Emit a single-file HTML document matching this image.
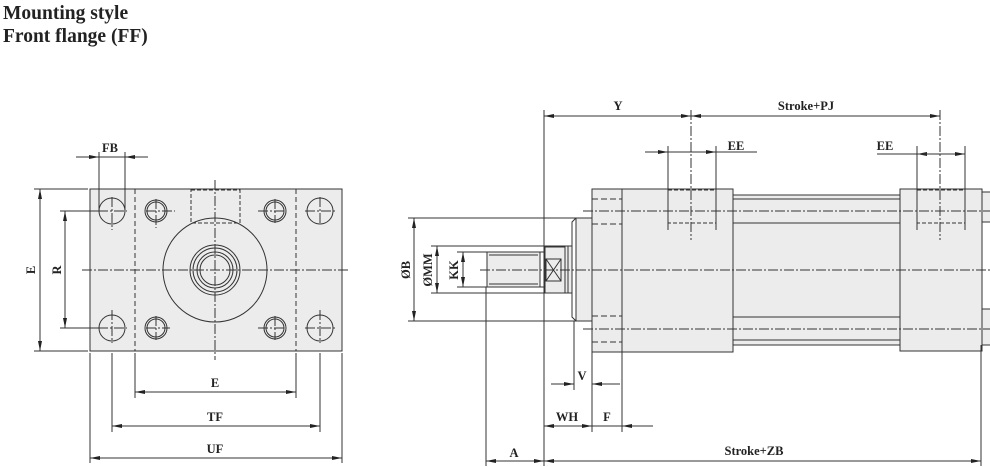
<!DOCTYPE html>
<html><head><meta charset="utf-8"><style>
body{margin:0;background:#fff;width:990px;height:467px;overflow:hidden}
svg{position:absolute;left:0;top:0}
</style></head><body>
<svg width="990" height="467" viewBox="0 0 990 467" xmlns="http://www.w3.org/2000/svg" font-family="Liberation Serif, serif">
<defs>
<marker id="a" viewBox="0 0 10 6" refX="10" refY="3" markerWidth="10" markerHeight="6" orient="auto-start-reverse" markerUnits="userSpaceOnUse"><path d="M0,1 L10,3 L0,5z" fill="#222"/></marker>
</defs>
<text x="3" y="19" font-size="19.5" font-weight="bold" fill="#222">Mounting style</text>
<text x="3" y="42" font-size="19.5" font-weight="bold" fill="#222">Front flange (FF)</text>

<g stroke="#333" stroke-width="1" fill="none">
<rect x="90" y="189" width="252" height="162" fill="#ececec"/>
<line x1="135" y1="189" x2="135" y2="351" stroke-dasharray="5,3"/>
<line x1="296" y1="189" x2="296" y2="351" stroke-dasharray="5,3"/>
<circle cx="215" cy="270" r="52"/>
<circle cx="215" cy="270" r="25"/><circle cx="215" cy="270" r="22"/><circle cx="215" cy="270" r="18"/><circle cx="215" cy="270" r="15"/>
<rect x="191" y="190" width="49" height="33" stroke-dasharray="4,2"/>
<circle cx="112" cy="211" r="13"/><circle cx="320" cy="211" r="13"/>
<circle cx="112" cy="328" r="13"/><circle cx="320" cy="328" r="13"/>
<circle cx="156" cy="211" r="11"/><circle cx="156" cy="211" r="9"/>
<circle cx="275" cy="211" r="11"/><circle cx="275" cy="211" r="9"/>
<circle cx="156" cy="328" r="11"/><circle cx="156" cy="328" r="9"/>
<circle cx="275" cy="328" r="11"/><circle cx="275" cy="328" r="9"/>
<g stroke-dasharray="10,2,2,2">
<line x1="82" y1="270" x2="350" y2="270"/>
<line x1="215" y1="180" x2="215" y2="360"/>
<line x1="98" y1="211" x2="127" y2="211"/><line x1="112" y1="197" x2="112" y2="230"/>
<line x1="305" y1="211" x2="335" y2="211"/><line x1="320" y1="197" x2="320" y2="225"/>
<line x1="98" y1="328" x2="127" y2="328"/><line x1="112" y1="310" x2="112" y2="343"/>
<line x1="305" y1="328" x2="335" y2="328"/><line x1="320" y1="310" x2="320" y2="343"/>
<line x1="146" y1="211" x2="175" y2="211"/><line x1="156" y1="199" x2="156" y2="228"/>
<line x1="258" y1="211" x2="286" y2="211"/><line x1="275" y1="199" x2="275" y2="223"/>
<line x1="146" y1="328" x2="170" y2="328"/><line x1="156" y1="316" x2="156" y2="340"/>
<line x1="258" y1="328" x2="286" y2="328"/><line x1="275" y1="316" x2="275" y2="340"/>
</g>
<line x1="34" y1="189" x2="88" y2="189"/><line x1="34" y1="351" x2="88" y2="351"/>
<line x1="40" y1="189" x2="40" y2="351" marker-start="url(#a)" marker-end="url(#a)"/>
<line x1="60" y1="211" x2="98" y2="211"/><line x1="60" y1="328" x2="98" y2="328"/>
<line x1="65" y1="211" x2="65" y2="328" marker-start="url(#a)" marker-end="url(#a)"/>
<line x1="99" y1="152" x2="99" y2="211"/><line x1="125" y1="152" x2="125" y2="211"/>
<line x1="76" y1="157" x2="99" y2="157" marker-end="url(#a)"/><line x1="148" y1="157" x2="125" y2="157" marker-end="url(#a)"/>
<line x1="99" y1="157" x2="125" y2="157"/>
<line x1="135" y1="353" x2="135" y2="398"/><line x1="296" y1="353" x2="296" y2="398"/>
<line x1="135" y1="392" x2="296" y2="392" marker-start="url(#a)" marker-end="url(#a)"/>
<line x1="112" y1="353" x2="112" y2="432"/><line x1="320" y1="353" x2="320" y2="432"/>
<line x1="112" y1="426" x2="320" y2="426" marker-start="url(#a)" marker-end="url(#a)"/>
<line x1="90" y1="353" x2="90" y2="463"/><line x1="342" y1="353" x2="342" y2="463"/>
<line x1="90" y1="458" x2="342" y2="458" marker-start="url(#a)" marker-end="url(#a)"/>

<rect x="733" y="195" width="167" height="150" fill="#ececec"/>
<line x1="733" y1="199" x2="900" y2="199"/><line x1="733" y1="223" x2="900" y2="223"/>
<line x1="733" y1="317" x2="900" y2="317"/><line x1="733" y1="340" x2="900" y2="340"/>
<rect x="592" y="189" width="30" height="163" fill="#ececec"/>
<rect x="622" y="189" width="111" height="163" fill="#ececec"/>
<rect x="900" y="189" width="82" height="162" fill="#ececec"/>
<rect x="982" y="192" width="10" height="30" fill="#ececec"/>
<rect x="982" y="309" width="10" height="36" fill="#ececec"/>
<rect x="576" y="218" width="16" height="103" fill="#ececec"/>
<path d="M576,218 L572,222 L572,317 L576,321" />
<rect x="565" y="246" width="7" height="47" fill="#ececec"/>
<line x1="568" y1="246" x2="568" y2="293"/>
<rect x="545" y="247" width="20" height="46" fill="#ececec"/>
<rect x="546" y="259" width="15" height="22"/><path d="M546,259 L561,281 M561,259 L546,281"/>
<rect x="487" y="252" width="53" height="35" fill="#ececec"/>
<line x1="489" y1="255" x2="538" y2="255"/><line x1="489" y1="284" x2="538" y2="284"/>
<line x1="540" y1="252" x2="545" y2="252"/><line x1="540" y1="287" x2="545" y2="287"/>
<g stroke-dasharray="6,3">
<line x1="592" y1="199" x2="622" y2="199"/><line x1="592" y1="224" x2="622" y2="224"/>
<line x1="592" y1="316" x2="622" y2="316"/><line x1="592" y1="342" x2="622" y2="342"/>
<rect x="668" y="190" width="48" height="33" stroke-dasharray="4,2"/>
<rect x="917" y="190" width="48" height="33" stroke-dasharray="4,2"/>
</g>
<g stroke-dasharray="10,2,2,2">
<line x1="480" y1="270" x2="990" y2="270"/>
<line x1="583" y1="211" x2="990" y2="211"/>
<line x1="583" y1="329" x2="990" y2="329"/>
<line x1="691" y1="110" x2="691" y2="240"/>
<line x1="940" y1="110" x2="940" y2="240"/>
</g>
<line x1="544" y1="110" x2="544" y2="466"/>
<line x1="544" y1="116" x2="691" y2="116" marker-start="url(#a)" marker-end="url(#a)"/>
<line x1="691" y1="116" x2="940" y2="116" marker-start="url(#a)" marker-end="url(#a)"/>
<line x1="668" y1="146" x2="668" y2="230"/><line x1="716" y1="146" x2="716" y2="230"/>
<line x1="645" y1="152" x2="668" y2="152" marker-end="url(#a)"/><line x1="668" y1="152" x2="716" y2="152" marker-end="url(#a)"/><line x1="716" y1="152" x2="757" y2="152"/>
<line x1="917" y1="146" x2="917" y2="230"/><line x1="965" y1="146" x2="965" y2="230"/>
<line x1="877" y1="154" x2="917" y2="154"/><line x1="965" y1="154" x2="917" y2="154" marker-end="url(#a)"/><line x1="917" y1="154" x2="965" y2="154" marker-end="url(#a)"/>
<line x1="408" y1="218" x2="576" y2="218"/><line x1="408" y1="321" x2="576" y2="321"/>
<line x1="414" y1="218" x2="414" y2="321" marker-start="url(#a)" marker-end="url(#a)"/>
<line x1="431" y1="246" x2="565" y2="246"/><line x1="431" y1="293" x2="565" y2="293"/>
<line x1="437" y1="246" x2="437" y2="293" marker-start="url(#a)" marker-end="url(#a)"/>
<line x1="457" y1="252" x2="487" y2="252"/><line x1="457" y1="287" x2="487" y2="287"/>
<line x1="463" y1="252" x2="463" y2="287" marker-start="url(#a)" marker-end="url(#a)"/>
<line x1="574" y1="321" x2="574" y2="390"/>
<line x1="551" y1="384" x2="574" y2="384" marker-end="url(#a)"/><line x1="620" y1="384" x2="592" y2="384" marker-end="url(#a)"/>
<line x1="592" y1="352" x2="592" y2="432"/><line x1="622" y1="352" x2="622" y2="432"/>
<line x1="544" y1="426" x2="592" y2="426" marker-start="url(#a)" marker-end="url(#a)"/>
<line x1="592" y1="426" x2="622" y2="426"/><line x1="653" y1="426" x2="622" y2="426" marker-end="url(#a)"/>
<line x1="486" y1="287" x2="486" y2="466"/>
<line x1="486" y1="461" x2="544" y2="461" marker-start="url(#a)" marker-end="url(#a)"/>
<line x1="981" y1="345" x2="981" y2="466"/>
<line x1="544" y1="461" x2="981" y2="461" marker-start="url(#a)" marker-end="url(#a)"/>
</g>

<g font-size="12.5" font-weight="bold" fill="#222" text-anchor="middle">
<text x="110" y="152">FB</text>
<text x="215" y="387">E</text>
<text x="215" y="421">TF</text>
<text x="215" y="453">UF</text>
<text transform="translate(35,270) rotate(-90)">E</text>
<text transform="translate(61,270) rotate(-90)">R</text>
<text transform="translate(410,270) rotate(-90)">ØB</text>
<text transform="translate(432,270) rotate(-90)">ØMM</text>
<text transform="translate(458,270) rotate(-90)">KK</text>
<text x="618" y="110">Y</text>
<text x="806" y="110">Stroke+PJ</text>
<text x="736" y="150">EE</text>
<text x="885" y="150">EE</text>
<text x="582" y="380">V</text>
<text x="567" y="421">WH</text>
<text x="607" y="421">F</text>
<text x="514" y="457">A</text>
<text x="754" y="455">Stroke+ZB</text>
</g>
</svg>
</body></html>
